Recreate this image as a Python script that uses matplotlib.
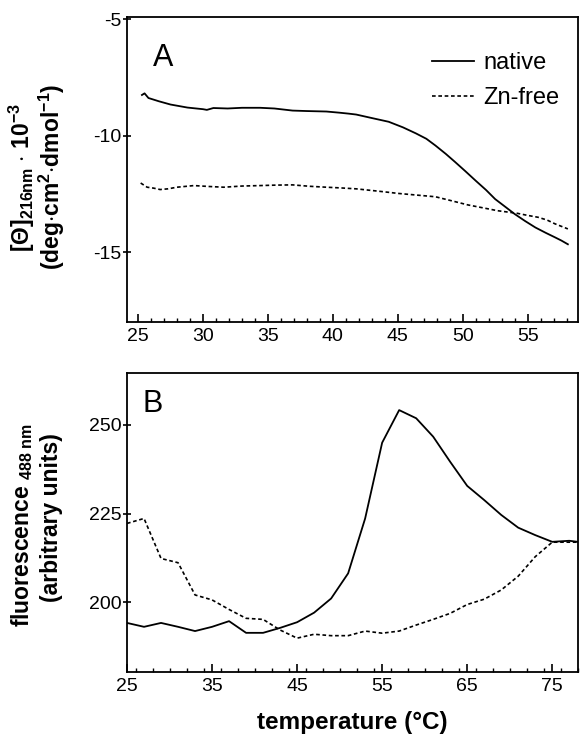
"""Thermal unfolding: CD at 216 nm (A) and ANS fluorescence at 488 nm (B)"""
import matplotlib
matplotlib.use("Agg")
import matplotlib.pyplot as plt
from matplotlib.ticker import MultipleLocator

plt.rcParams['font.family'] = ['Liberation Sans', 'DejaVu Sans']
plt.rcParams['axes.unicode_minus'] = False
plt.rcParams['mathtext.fontset'] = 'custom'
plt.rcParams['mathtext.rm'] = 'Liberation Sans'
plt.rcParams['mathtext.bf'] = 'Liberation Sans:bold'
plt.rcParams['mathtext.it'] = 'Liberation Sans:italic'

# panel A - ellipticity (x 10^-3)
tA_native = [25.3, 25.5, 25.8, 26.6, 27.5, 28.8, 30.0, 30.3, 30.8, 31.9, 33.0, 34.4, 35.5,
             36.9, 38.0, 39.5, 40.5, 41.2, 41.8, 43.0, 44.3, 45.4, 46.4, 47.2, 47.9, 48.7,
             49.4, 50.2, 51.0, 51.8, 52.5, 53.3, 54.0, 54.8, 55.6, 56.4, 57.1, 57.6, 58.1]
cdA_native = [-8.25, -8.18, -8.38, -8.52, -8.66, -8.79, -8.86, -8.89, -8.81, -8.83, -8.80, -8.80, -8.83,
              -8.92, -8.94, -8.96, -9.01, -9.05, -9.09, -9.24, -9.40, -9.64, -9.90, -10.13, -10.42, -10.78,
              -11.12, -11.52, -11.93, -12.33, -12.72, -13.06, -13.36, -13.66, -13.94, -14.17, -14.36, -14.50, -14.66]

tA_znfree = [25.2, 25.7, 26.2, 26.7, 27.3, 28.0, 29.3, 30.5, 31.6, 33.0, 34.4, 35.6, 36.9, 38.2,
             39.5, 40.6, 41.8, 43.5, 45.1, 46.5, 47.9, 49.2, 50.4, 51.6, 52.7, 54.2, 55.0, 55.8,
             56.5, 57.1, 58.1]
cdA_znfree = [-12.03, -12.21, -12.25, -12.31, -12.28, -12.21, -12.14, -12.18, -12.21, -12.16, -12.14, -12.12, -12.11, -12.17,
              -12.21, -12.24, -12.28, -12.38, -12.48, -12.55, -12.62, -12.80, -12.97, -13.10, -13.22, -13.33, -13.42, -13.50,
              -13.62, -13.78, -14.00]

# panel B - fluorescence
tB = [25, 27, 29, 31, 33, 35, 37, 39, 41, 43, 45, 47, 49, 51, 53, 55, 57, 59, 61, 63,
      65, 67, 69, 71, 73, 75, 77, 78]
flB_native = [194.1, 193.0, 194.1, 193.0, 191.8, 193.0, 194.6, 191.3, 191.3, 192.7, 194.3, 197.0, 201.0, 208.1,
              223.6, 245.0, 254.2, 251.9, 246.7, 239.6, 232.8, 228.8, 224.6, 221.0, 218.9, 217.0, 217.3, 217.0]
flB_znfree = [222.2, 223.6, 212.3, 211.1, 202.0, 200.6, 197.9, 195.4, 195.1, 192.1, 189.8, 190.9, 190.5, 190.5,
              191.8, 191.2, 191.8, 193.5, 195.1, 196.8, 199.3, 200.8, 203.4, 207.3, 212.8, 216.9, 216.9, 216.9]

dotted = (0, (2.2, 1.6))

fig = plt.figure(figsize=(5.8, 7.37), dpi=100)
axA = fig.add_axes([0.219, 0.563, 0.778, 0.414])
axB = fig.add_axes([0.219, 0.088, 0.778, 0.406])

def style_axes(ax):
    for s in ax.spines.values():
        s.set_linewidth(1.3)
    ax.tick_params(axis='x', which='major', direction='in', length=5.5, width=1.2,
                   labelsize=14, pad=4)
    ax.tick_params(axis='x', which='minor', direction='in', length=3, width=1.0)
    ax.tick_params(axis='y', which='major', direction='inout', length=6, width=1.2,
                   labelsize=14, pad=1)

# ----- A -----
axA.plot(tA_native, cdA_native, color='black', lw=1.3, label='native')
axA.plot(tA_znfree, cdA_znfree, color='black', lw=1.2, linestyle=dotted, label='Zn-free')
axA.set_xlim(24.15, 58.9)
axA.set_ylim(-18, -4.9)
axA.set_xticks([25, 30, 35, 40, 45, 50, 55])
axA.xaxis.set_minor_locator(MultipleLocator(1))
axA.set_yticks([-5, -10, -15])
style_axes(axA)
axA.text(0.058, 0.84, 'A', transform=axA.transAxes, fontsize=22)
axA.legend(loc='upper left', bbox_to_anchor=(0.675, 0.885), frameon=False, fontsize=17,
           handlelength=1.8, handletextpad=0.4, labelspacing=0.55, borderpad=0, borderaxespad=0)

# ----- B -----
axB.plot(tB, flB_native, color='black', lw=1.3)
axB.plot(tB, flB_znfree, color='black', lw=1.2, linestyle=dotted)
axB.set_xlim(25, 78.06)
axB.set_ylim(180.2, 264.7)
axB.set_xticks([25, 35, 45, 55, 65, 75])
axB.xaxis.set_minor_locator(MultipleLocator(2))
axB.set_yticks([200, 225, 250])
style_axes(axB)
axB.text(0.035, 0.87, 'B', transform=axB.transAxes, fontsize=22)

# axis labels
fig.text(22 / 580, 1 - 177 / 737, r'$\mathbf{[\Theta]_{216nm}}$ $\cdot$ $\mathbf{10^{-3}}$',
         rotation=90, ha='center', va='center', fontsize=16.5, fontweight='bold')
fig.text(52 / 580, 1 - 177 / 737, r'(deg$\cdot$cm$\mathbf{^2}$$\cdot$dmol$\mathbf{^{-1}}$)',
         rotation=90, ha='center', va='center', fontsize=16.5, fontweight='bold')
fig.text(22 / 580, 1 - 525 / 737, r'fluorescence $\mathbf{_{488\ nm}}$',
         rotation=90, ha='center', va='center', fontsize=16.5, fontweight='bold')
fig.text(52 / 580, 1 - 518 / 737, '(arbitrary units)',
         rotation=90, ha='center', va='center', fontsize=16.5, fontweight='bold')
fig.text(352 / 580, 1 - 723 / 737, 'temperature (°C)', ha='center', va='center',
         fontsize=17.5, fontweight='bold')

fig.savefig('out.png', dpi=100)
